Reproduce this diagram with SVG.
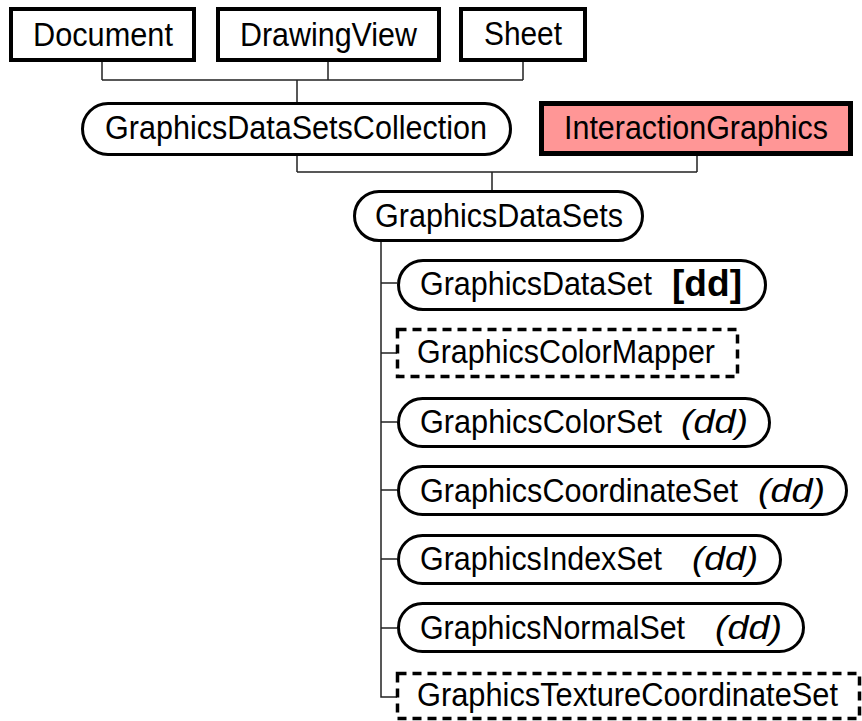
<svg xmlns="http://www.w3.org/2000/svg" width="862" height="721" viewBox="0 0 862 721">
<style>
  text { font-family: "Liberation Sans", Arial, sans-serif; font-size: 34px; fill: #000; }
  .box { fill: #fff; stroke: #000; stroke-width: 4; }
  .pill { fill: #fff; stroke: #000; stroke-width: 3; }
  .dash { fill: #fff; stroke: #000; stroke-width: 3.5; stroke-dasharray: 9 6; }
  .ig { fill: #FF9696; stroke: #000; stroke-width: 5; }
  .conn { fill: none; stroke: #222; stroke-width: 1.5; }
  .b { font-weight: bold; font-size: 37px; }
  .i { font-style: italic; font-size: 34px; }
  .t { font-size: 33px; }
</style>
<rect width="862" height="721" fill="#fff"/>
<g id="connectors">
  <path class="conn" d="M102,62 V80 M328,62 V80 M523,62 V80 M102,80 H523 M297,80 V102"/>
  <path class="conn" d="M297,156 V172 M697,156 V172 M297,172 H697 M492,172 V190"/>
  <path class="conn" d="M381,242 V697 H397 M381,283 H397 M381,353 H397 M381,422 H397 M381,490 H397 M381,559 H397 M381,628 H397"/>
</g>
<g id="Document">
  <rect class="box" x="11" y="9" width="183" height="51"/>
  <text x="33" y="46" textLength="140" lengthAdjust="spacingAndGlyphs">Document</text>
</g>
<g id="DrawingView">
  <rect class="box" x="218" y="9" width="221" height="51"/>
  <text x="240" y="46" textLength="177" lengthAdjust="spacingAndGlyphs">DrawingView</text>
</g>
<g id="Sheet">
  <rect class="box" x="461" y="9" width="124" height="51"/>
  <text x="484" y="45" textLength="78" lengthAdjust="spacingAndGlyphs">Sheet</text>
</g>
<g id="GraphicsDataSetsCollection">
  <rect class="pill" x="82.5" y="103.5" width="428" height="51" rx="25.5"/>
  <text x="105" y="139" textLength="382" lengthAdjust="spacingAndGlyphs">GraphicsDataSetsCollection</text>
</g>
<g id="InteractionGraphics">
  <rect class="ig" x="541.5" y="103.5" width="309" height="50"/>
  <text x="564" y="139" textLength="264" lengthAdjust="spacingAndGlyphs">InteractionGraphics</text>
</g>
<g id="GraphicsDataSets">
  <rect class="pill" x="354.5" y="191.5" width="288" height="49" rx="24.5"/>
  <text x="375" y="227" textLength="248" lengthAdjust="spacingAndGlyphs">GraphicsDataSets</text>
</g>
<g id="GraphicsDataSet">
  <rect class="pill" x="398.5" y="260.5" width="367" height="49" rx="24.5"/>
  <text x="420" y="295" textLength="232" lengthAdjust="spacingAndGlyphs">GraphicsDataSet</text>
  <text class="b" x="672" y="296" textLength="70" lengthAdjust="spacingAndGlyphs">[dd]</text>
</g>
<g id="GraphicsColorMapper">
  <rect class="dash" x="397.5" y="329.5" width="340" height="47"/>
  <text x="417" y="363" textLength="298" lengthAdjust="spacingAndGlyphs">GraphicsColorMapper</text>
</g>
<g id="GraphicsColorSet">
  <rect class="pill" x="398.5" y="398.5" width="371" height="48" rx="24"/>
  <text x="420" y="433" textLength="242" lengthAdjust="spacingAndGlyphs">GraphicsColorSet</text>
  <text class="i" x="681" y="433" textLength="67" lengthAdjust="spacingAndGlyphs">(dd)</text>
</g>
<g id="GraphicsCoordinateSet">
  <rect class="pill" x="398.5" y="466.5" width="448" height="48" rx="24"/>
  <text x="420" y="502" textLength="318" lengthAdjust="spacingAndGlyphs">GraphicsCoordinateSet</text>
  <text class="i" x="758" y="502" textLength="67" lengthAdjust="spacingAndGlyphs">(dd)</text>
</g>
<g id="GraphicsIndexSet">
  <rect class="pill" x="398.5" y="535.5" width="382" height="48" rx="24"/>
  <text x="420" y="570" textLength="242" lengthAdjust="spacingAndGlyphs">GraphicsIndexSet</text>
  <text class="i" x="692" y="570" textLength="66" lengthAdjust="spacingAndGlyphs">(dd)</text>
</g>
<g id="GraphicsNormalSet">
  <rect class="pill" x="398.5" y="603.5" width="405" height="48" rx="24"/>
  <text x="420" y="639" textLength="265" lengthAdjust="spacingAndGlyphs">GraphicsNormalSet</text>
  <text class="i" x="715" y="639" textLength="67" lengthAdjust="spacingAndGlyphs">(dd)</text>
</g>
<g id="GraphicsTextureCoordinateSet">
  <rect class="dash" x="397.5" y="673.5" width="462" height="45"/>
  <text class="t" x="417" y="706" textLength="421" lengthAdjust="spacingAndGlyphs">GraphicsTextureCoordinateSet</text>
</g>
</svg>
